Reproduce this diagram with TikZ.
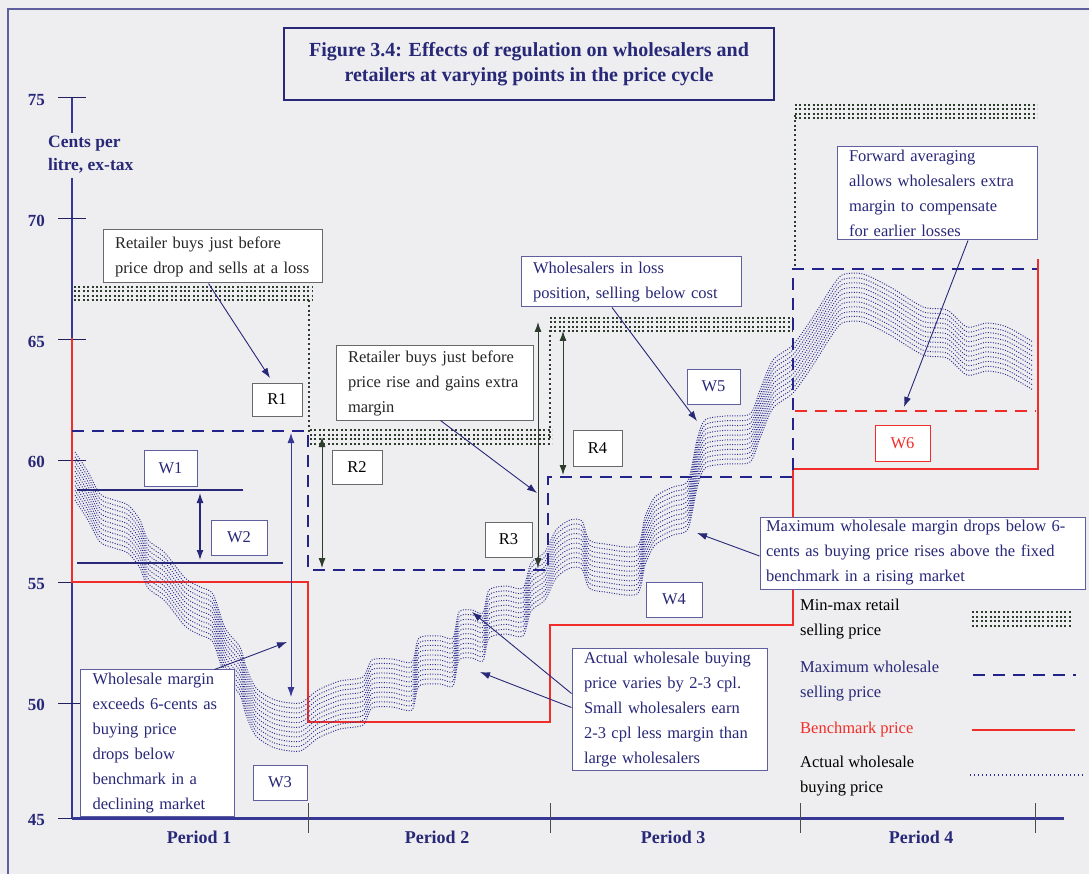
\documentclass[tikz,border=0pt]{standalone}
\usepackage{fontspec}
\setmainfont{Liberation Serif}
\usetikzlibrary{arrows.meta}
\definecolor{bg}{RGB}{238,238,240}
\definecolor{navy}{RGB}{40,40,120}
\definecolor{axisc}{RGB}{55,55,150}
\definecolor{dashc}{RGB}{35,35,140}
\definecolor{redc}{RGB}{240,45,40}
\definecolor{curvec}{RGB}{45,45,145}
\definecolor{dotc}{RGB}{45,60,45}
\definecolor{boxc}{RGB}{95,95,160}
\definecolor{greyc}{RGB}{105,105,105}
\newcommand\fs{\fontsize{16.5}{25}\selectfont}
\newcommand\fb{\fontsize{17}{25}\selectfont\bfseries}
\tikzset{
  tbox/.style={draw=boxc, fill=white, line width=1pt, align=left, inner xsep=12pt, inner ysep=3pt, font=\fs, text=navy},
  lbox/.style={draw=boxc, fill=white, line width=1pt, align=center, inner sep=0pt, font=\fs, text=navy},
  rbox/.style={lbox, draw=greyc, text=black},
  rdot/.style={draw=dotc, line width=2pt, dash pattern=on 2pt off 2.4pt},
  vdot/.style={draw=dotc, line width=2pt, dash pattern=on 2pt off 2.8pt},
  wdash/.style={draw=dashc, line width=2.6pt, dash pattern=on 12pt off 8pt},
  bench/.style={draw=redc, line width=2.4pt},
  wcurve/.style={draw=curvec, line width=0.95pt, dash pattern=on 1pt off 1.5pt},
  ptr/.style={draw=navy, line width=0.9pt, -{Latex[length=10pt,width=7pt]}},
  dbl/.style={draw=dotc, line width=0.9pt, {Latex[length=10pt,width=7pt]}-{Latex[length=10pt,width=7pt]}},
  ax/.style={draw=axisc, line width=2pt},
  tl/.style={font=\fb, text=navy}
}
\begin{document}
\begin{tikzpicture}[x=1pt,y=-1pt]
\useasboundingbox (0,0) rectangle (1089,874);
\fill[bg] (0,0) rectangle (1089,874);
% frame
\draw[draw=boxc, line width=1.5pt] (8,874) -- (8,9) -- (1089,9);

% title
\node[draw=navy, line width=1.6pt, fill=bg, minimum width=490pt, minimum height=72pt, align=center, font={\fontsize{20}{25}\selectfont\bfseries}, text=navy] (title) at (529,64) {Figure 3.4: Effects of regulation on wholesalers and\\retailers at varying points in the price cycle};

% axes
\draw[ax] (72,98) -- (72,133);
\draw[ax] (72,178) -- (72,818);
\foreach \yy/\lab in {98/75,219/70,340/65,460/60,582/55,703/50,818/45}{
  \draw[draw=navy!80!black, line width=1pt] (58,\yy) -- (86,\yy);
  \node[tl, anchor=east, inner sep=0pt] (t\lab) at (45,\yy+2) {\lab};
}
\node[anchor=north west, align=left, inner sep=0pt, font={\fontsize{17.5}{23}\selectfont\bfseries}, text=navy] (ylab) at (48,136) {Cents per\\litre, ex-tax};
\draw[draw=axisc, line width=3pt] (72,818) -- (1064,818);
\foreach \xx in {308,550,800,1035}{\draw[draw=black!70, line width=0.8pt] (\xx,803) -- (\xx,833);}
\foreach \nm/\xx/\lab in {p1/199/Period 1,p2/437/Period 2,p3/673/Period 3,p4/921/Period 4}{
  \node[font={\fontsize{18}{22}\selectfont\bfseries}, text=navy] (\nm) at (\xx,837) {\lab};
}

% retail min-max bands
\foreach \d in {0,4.5,9,13.5}{
  \draw[rdot] (74,287+\d) -- (312,287+\d);
  \draw[rdot] (310,430+\d) -- (552,430+\d);
  \draw[rdot] (550,318+\d) -- (793,318+\d);
  \draw[rdot] (795,105+\d) -- (1037,105+\d);
}
\draw[vdot] (309,300) -- (309,432);
\draw[vdot] (550,330) -- (550,440);
\draw[vdot] (795,115) -- (795,268);

% benchmark
\draw[bench] (72,338) -- (72,582) -- (308,582) -- (308,722) -- (550,722) -- (550,625) -- (793,625) -- (793,469) -- (1038,469) -- (1038,259);
\draw[draw=redc, line width=2.4pt, dash pattern=on 12pt off 8pt] (795,411) -- (1036,411);

% max wholesale
\draw[wdash] (72,431) -- (308,431) -- (308,570) -- (548,570) -- (548,477) -- (793,477) -- (793,269) -- (1037,269);

% W1/W2 lines
\draw[draw=navy, line width=2.4pt] (77,490) -- (243,490);
\draw[draw=navy, line width=2.4pt] (77,563) -- (283,563);

% wholesale buying price curve
\foreach \k in {0,...,10}{
\draw[wcurve, yshift=-\k*4.8pt] plot[smooth, tension=0.45] coordinates {(75,452) (88,472) (100,494) (114,500) (128,505) (140,520) (148,540) (165,553) (185,578) (200,587) (213,594) (225,628) (240,647) (246,667) (256,688) (275,700) (300,703) (318,690) (340,681) (363,677) (372,660) (392,659) (412,662) (419,638) (440,636) (453,638) (459,612) (472,610) (483,613) (489,590) (506,586) (523,588) (531,563) (545,552) (556,530) (570,520) (582,521) (589,540) (605,544) (637,546) (645,517) (655,497) (673,487) (688,481) (697,440) (705,420) (725,416) (750,414) (760,390) (773,360) (793,345) (813,317) (830,290) (842,275) (863,274) (890,287) (923,307) (947,310) (967,327) (987,323) (1007,327) (1033,342)};
}

% double arrows
\coordinate (m1a) at (291,433); \coordinate (m1b) at (291,697);
\draw[dbl, draw=axisc] (m1a) -- (m1b);
\coordinate (w2a) at (200,493); \coordinate (w2b) at (200,560);
\draw[dbl, draw=navy, line width=1.3pt] (w2a) -- (w2b);
\coordinate (r2a) at (322,437); \coordinate (r2b) at (322,568);
\draw[dbl] (r2a) -- (r2b);
\coordinate (r3a) at (538,322); \coordinate (r3b) at (538,568);
\draw[dbl] (r3a) -- (r3b);
\coordinate (r4a) at (563,331); \coordinate (r4b) at (563,475);
\draw[dbl] (r4a) -- (r4b);

% label boxes
\node[rbox, minimum width=50pt, minimum height=33pt] (R1) at (277,399.5) {R1};
\node[rbox, minimum width=50pt, minimum height=34pt] (R2) at (357,467) {R2};
\node[rbox, minimum width=47pt, minimum height=35pt] (R3) at (508.5,539.5) {R3};
\node[rbox, minimum width=49pt, minimum height=36pt] (R4) at (597.5,448) {R4};
\node[lbox, minimum width=53pt, minimum height=36pt] (W1) at (170.5,468) {W1};
\node[lbox, minimum width=56pt, minimum height=35pt] (W2) at (239,537.5) {W2};
\node[lbox, minimum width=54pt, minimum height=35pt] (W3) at (280,782.5) {W3};
\node[lbox, minimum width=56pt, minimum height=35pt] (W4) at (674,599.5) {W4};
\node[lbox, minimum width=53pt, minimum height=35pt] (W5) at (713.5,386.5) {W5};
\node[lbox, draw=redc, text=redc, minimum width=55pt, minimum height=36pt] (W6) at (902.5,443) {W6};

% text boxes
\node[tbox, draw=greyc, text=black!85, minimum width=219pt, minimum height=53pt, text width=195pt] (tb1) at (212.5,256.5) {Retailer buys just before\\price drop and sells at a loss};
\node[tbox, draw=greyc, text=black!85, minimum width=197pt, minimum height=74pt, text width=173pt] (tb2) at (434.5,383) {Retailer buys just before\\price rise and gains extra\\margin};
\node[tbox, minimum width=220pt, minimum height=50pt, text width=196pt] (tb3) at (631,282) {Wholesalers in loss\\position, selling below cost};
\node[tbox, minimum width=200pt, minimum height=93pt, text width=176pt] (tb4) at (937,193.5) {Forward averaging\\allows wholesalers extra\\margin to compensate\\for earlier losses};
\node[tbox, inner xsep=6pt, minimum width=325pt, minimum height=72pt, text width=313pt] (tb5) at (922.5,553) {Maximum wholesale margin drops below 6-\\cents as buying price rises above the fixed\\benchmark in a rising market};
\node[tbox, minimum width=195pt, minimum height=113pt, text width=171pt] (tb6) at (669.5,709.5) {Actual wholesale buying\\price varies by 2-3 cpl.\\Small wholesalers earn\\2-3 cpl less margin than\\large wholesalers};
\node[tbox, minimum width=151pt, minimum height=130pt, text width=130pt] (tb7) at (157.5,743) {Wholesale margin\\exceeds 6-cents as\\buying price\\drops below\\benchmark in a\\declining market};

% pointers
\coordinate (e1) at (270,378);
\draw[ptr] ([xshift=-4pt]tb1.south) -- (e1);
\coordinate (e2) at (537,493);
\draw[ptr] ([xshift=6pt]tb2.south) -- (e2);
\coordinate (e3) at (697,421);
\draw[ptr] ([xshift=-19pt]tb3.south) -- (e3);
\coordinate (e4) at (904,407);
\draw[ptr] ([xshift=31pt]tb4.south) -- (e4);
\coordinate (e5) at (697,533);
\draw[ptr] ([yshift=-3pt]tb5.west) -- (e5);
\coordinate (e6a) at (472,612);
\coordinate (e6b) at (480,672);
\draw[ptr] ([yshift=16pt]tb6.west) -- (e6a);
\draw[ptr] ([yshift=2pt]tb6.west) -- (e6b);
\coordinate (e7) at (287,642);
\draw[ptr] ([xshift=57pt]tb7.north) -- (e7);

% legend
\node[anchor=north west, align=left, font=\fs, text=black, inner sep=0pt] (lg1) at (800,599) {Min-max retail\\selling price};
\foreach \d in {0,4.5,9,13.5}{\draw[rdot] (972,612+\d) -- (1072,612+\d);}
\node[anchor=north west, align=left, font=\fs, text=navy, inner sep=0pt] (lg2) at (800,661) {Maximum wholesale\\selling price};
\draw[wdash] (973,675) -- (1076,675);
\node[anchor=west, font=\fs, text=redc, inner sep=0pt] (lg3) at (800,730) {Benchmark price};
\draw[bench] (972,730) -- (1075,730);
\node[anchor=north west, align=left, font=\fs, text=black, inner sep=0pt] (lg4) at (800,756) {Actual wholesale\\buying price};
\draw[draw=curvec, line width=1.4pt, dash pattern=on 1.4pt off 2.6pt] (970,775) -- (1085,775);
\end{tikzpicture}
\end{document}
